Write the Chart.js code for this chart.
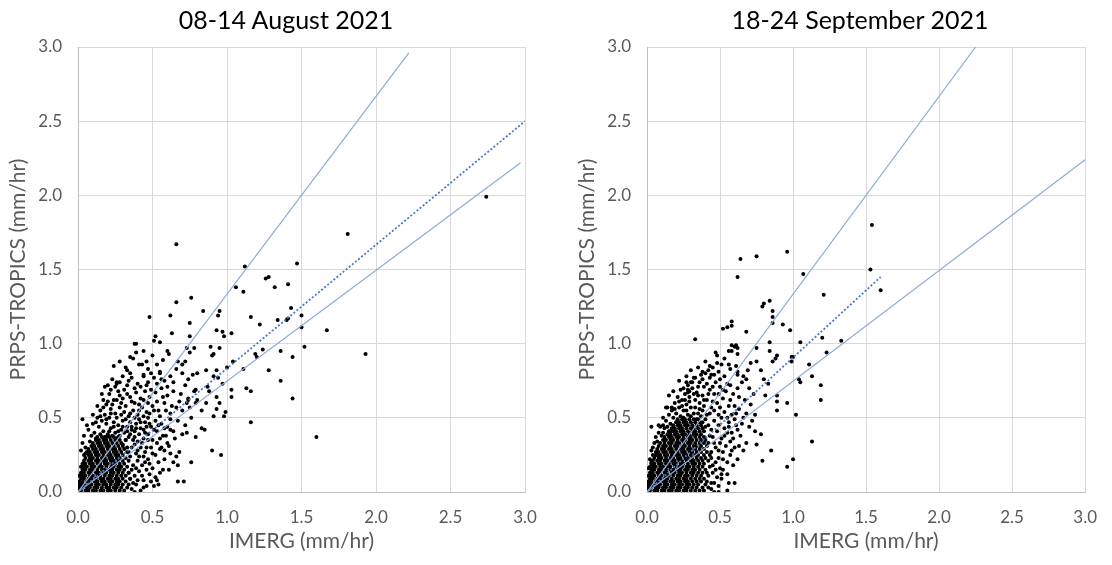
<!DOCTYPE html>
<html>
<head>
<meta charset="utf-8">
<script src="https://cdn.jsdelivr.net/npm/chart.js@4"></script>
<style>
  html, body { margin: 0; padding: 0; background: #fff; }
  .panel { position: absolute; top: 0; height: 565px; }
  #p-aug { left: 0; width: 556px; }
  #p-sep { left: 570px; width: 542px; }
  .ttl {
    position: absolute; top: 4px; width: 400px; margin-left: -200px;
    text-align: center; font: 25px/30px Lato, 'Open Sans', sans-serif; color: #000;
  }
</style>
</head>
<body>
<div class="panel" id="p-aug"><canvas id="c-aug"></canvas></div>
<div class="panel" id="p-sep"><canvas id="c-sep"></canvas></div>
<div class="ttl" id="t-aug" style="left: 286px"></div>
<div class="ttl" id="t-sep" style="left: 860px"></div>
<script>
const FONT = "Lato, 'Open Sans', sans-serif";
const GREY = '#595959';

const axisTicks = [0, 0.5, 1.0, 1.5, 2.0, 2.5, 3.0];
const titles = ['08-14 August 2021', '18-24 September 2021'];
const xTitle = 'IMERG (mm/hr)';
const yTitle = 'PRPS-TROPICS (mm/hr)';

// reference lines (start, end)
const augUpper = [[0, 0], [2.22, 2.96]];
const augFit   = [[0, 0], [3.0, 2.5]];
const augLower = [[0, 0], [2.97, 2.22]];
const sepUpper = [[0, 0], [2.25, 3.0]];
const sepFit   = [[0, 0], [1.6, 1.45]];
const sepLower = [[0, 0], [3.0, 2.24]];

// dense core near the origin: [y, [x values]]
const augCoreRows = [
  [0.01, [0.00,0.02,0.05,0.07,0.10,0.12,0.15,0.17,0.20,0.22,0.25,0.28,0.31]],
  [0.03, [0.01,0.03,0.06,0.08,0.11,0.13,0.16,0.19,0.21,0.24,0.26,0.29,0.33]],
  [0.05, [0.00,0.02,0.04,0.07,0.09,0.12,0.14,0.17,0.19,0.22,0.25,0.27,0.30,0.34]],
  [0.07, [0.01,0.03,0.06,0.08,0.11,0.13,0.16,0.18,0.21,0.23,0.26,0.28,0.32]],
  [0.09, [0.02,0.04,0.07,0.09,0.12,0.15,0.17,0.20,0.22,0.25,0.27,0.30,0.35]],
  [0.11, [0.01,0.03,0.05,0.08,0.10,0.13,0.15,0.18,0.21,0.23,0.26,0.29,0.32]],
  [0.13, [0.02,0.04,0.07,0.09,0.12,0.14,0.17,0.19,0.22,0.24,0.27,0.30,0.34]],
  [0.15, [0.03,0.05,0.08,0.10,0.13,0.16,0.18,0.21,0.23,0.26,0.28,0.31]],
  [0.17, [0.02,0.04,0.06,0.09,0.11,0.14,0.16,0.19,0.22,0.24,0.27,0.29,0.33]],
  [0.19, [0.03,0.05,0.08,0.10,0.13,0.15,0.18,0.20,0.23,0.25,0.28,0.31]],
  [0.21, [0.04,0.07,0.09,0.12,0.14,0.17,0.19,0.22,0.24,0.27,0.30,0.34]],
  [0.23, [0.05,0.08,0.10,0.13,0.16,0.18,0.21,0.23,0.26,0.28,0.32]],
  [0.25, [0.04,0.07,0.09,0.12,0.14,0.17,0.20,0.22,0.25,0.27,0.30]],
  [0.27, [0.06,0.08,0.11,0.13,0.16,0.18,0.21,0.24,0.26,0.29,0.33]],
  [0.29, [0.07,0.10,0.12,0.15,0.17,0.20,0.23,0.25,0.28,0.31]],
  [0.31, [0.09,0.11,0.14,0.16,0.19,0.21,0.24,0.27,0.30]],
  [0.33, [0.10,0.13,0.15,0.18,0.20,0.23,0.26,0.29]],
  [0.35, [0.12,0.14,0.17,0.19,0.22,0.25,0.28,0.32]],
  [0.37, [0.13,0.16,0.19,0.21,0.24,0.27]],
];

const augScatter = [
  [0.36,0.02],[0.39,0.05],[0.42,0.01],[0.44,0.08],[0.38,0.11],[0.41,0.14],[0.46,0.04],[0.48,0.12],
  [0.37,0.18],[0.40,0.21],[0.43,0.18],[0.47,0.22],[0.50,0.16],[0.52,0.25],[0.45,0.27],[0.39,0.26],
  [0.42,0.30],[0.49,0.30],[0.55,0.29],[0.58,0.22],[0.53,0.08],[0.57,0.15],[0.61,0.31],[0.35,0.24],
  [0.36,0.30],[0.51,0.04],[0.67,0.07],
  [0.08,0.34],[0.05,0.30],[0.04,0.38],[0.07,0.42],[0.11,0.40],[0.10,0.46],[0.14,0.44],[0.17,0.41],
  [0.13,0.50],[0.16,0.48],[0.19,0.46],[0.22,0.43],[0.25,0.40],[0.28,0.38],[0.31,0.40],[0.34,0.37],
  [0.37,0.35],[0.40,0.34],[0.44,0.36],[0.47,0.39],[0.50,0.35],[0.53,0.41],[0.57,0.38],[0.60,0.44],
  [0.15,0.55],[0.18,0.52],[0.21,0.50],[0.24,0.47],[0.27,0.45],[0.30,0.48],[0.33,0.44],[0.36,0.42],
  [0.39,0.46],[0.42,0.43],[0.45,0.47],[0.49,0.44],[0.52,0.48],[0.56,0.46],[0.64,0.41],[0.67,0.48],
  [0.72,0.45],[0.76,0.50],
  [0.19,0.59],[0.22,0.56],[0.25,0.53],[0.28,0.57],[0.31,0.54],[0.34,0.51],[0.37,0.55],[0.40,0.52],
  [0.43,0.57],[0.46,0.54],[0.50,0.58],[0.54,0.55],[0.58,0.60],[0.62,0.53],[0.66,0.57],[0.70,0.55],
  [0.74,0.62],
  [0.17,0.62],[0.21,0.66],[0.24,0.62],[0.27,0.68],[0.30,0.63],[0.33,0.66],[0.36,0.61],[0.39,0.67],
  [0.42,0.63],[0.45,0.68],[0.48,0.64],[0.52,0.67],[0.56,0.70],[0.60,0.65],[0.64,0.68],[0.69,0.66],
  [0.78,0.68],
  [0.20,0.72],[0.23,0.76],[0.26,0.74],[0.30,0.78],[0.33,0.72],[0.36,0.77],[0.40,0.73],[0.44,0.79],
  [0.47,0.74],[0.51,0.77],[0.55,0.81],[0.58,0.75],[0.62,0.78],[0.66,0.83],
  [0.24,0.85],[0.28,0.88],[0.32,0.84],[0.37,0.90],[0.41,0.86],[0.46,0.88],[0.50,0.92],[0.53,0.86],
  [0.57,0.89],[0.61,0.93],
  [0.32,0.35],[0.35,0.39],[0.38,0.41],[0.41,0.39],[0.44,0.42],[0.30,0.32],[0.33,0.30],[0.26,0.36],
  [0.23,0.38],[0.20,0.39],[0.29,0.42],[0.35,0.47],[0.41,0.49],[0.47,0.50],[0.38,0.37],[0.46,0.44],
  [0.13,0.58],[0.10,0.52],[0.16,0.66],[0.18,0.71],
  [0.72,0.72],[0.68,0.61],[0.63,0.58],[0.75,0.57],[0.80,0.62],[0.83,0.55],[0.86,0.60],[0.55,0.36],
  [0.60,0.33],[0.65,0.36],[0.70,0.39],[0.58,0.28],[0.62,0.26],[0.48,0.19],[0.52,0.10],[0.54,0.20],
  [0.44,0.24],
  [0.05,0.26],[0.03,0.33],[0.02,0.28],[0.06,0.45],[0.09,0.38],[0.12,0.36],[0.15,0.39],[0.18,0.37],
  [0.21,0.41],[0.24,0.44],[0.27,0.41],[0.30,0.44],[0.33,0.41],[0.36,0.44],[0.39,0.43],[0.42,0.47],
  [0.45,0.40],[0.48,0.46],[0.51,0.42],[0.54,0.45],[0.58,0.43],
  [0.12,0.47],[0.15,0.51],[0.19,0.49],[0.22,0.53],[0.26,0.50],[0.29,0.52],[0.32,0.49],[0.35,0.53],
  [0.38,0.50],[0.41,0.55],[0.44,0.51],[0.48,0.53],[0.51,0.55],[0.55,0.51],[0.59,0.55],
  [0.17,0.57],[0.20,0.61],[0.23,0.59],[0.26,0.62],[0.29,0.60],[0.32,0.58],[0.35,0.64],[0.38,0.60],
  [0.41,0.59],[0.44,0.62],[0.47,0.60],[0.53,0.61],[0.57,0.64],
  [0.22,0.69],[0.25,0.71],[0.28,0.65],[0.31,0.69],[0.34,0.75],[0.38,0.70],[0.42,0.71],[0.46,0.72],
  [0.49,0.69],[0.53,0.73],
  [0.34,0.27],[0.38,0.32],[0.40,0.28],[0.43,0.33],[0.46,0.30],[0.47,0.35],[0.50,0.26],[0.53,0.33],
  [0.56,0.30],[0.41,0.24],[0.45,0.20],[0.39,0.16],[0.43,0.11],[0.46,0.15],[0.40,0.08],[0.37,0.06],
  [0.34,0.13],[0.36,0.15],[0.49,0.07],[0.44,0.03],[0.38,0.00],[0.35,0.09],
  // sparse outliers
  [2.74,1.99],[1.81,1.74],[0.66,1.67],[1.12,1.52],[1.47,1.54],[1.26,1.44],[1.28,1.45],[1.06,1.38],
  [1.11,1.35],[1.32,1.38],[1.41,1.40],[0.76,1.31],[0.66,1.28],[0.48,1.18],[0.62,1.19],[0.84,1.22],
  [0.94,1.19],[0.95,1.22],[0.75,1.14],[1.16,1.18],[1.22,1.13],[1.34,1.16],[1.40,1.16],[1.41,1.17],
  [1.43,1.24],[1.50,1.19],[1.50,1.11],[1.67,1.09],[0.93,1.09],[0.97,1.08],[0.98,1.05],[1.03,1.07],
  [0.63,1.07],[0.75,1.05],[0.52,1.05],[0.51,1.02],[0.55,1.01],[0.38,1.00],[0.89,0.98],[0.95,0.97],
  [0.78,0.97],[0.73,0.97],[1.52,0.98],[1.24,0.96],[1.44,0.91],[1.93,0.93],[1.44,0.63],[1.60,0.37],
  [0.60,0.95],[0.75,0.94],[0.90,0.92],[0.91,0.93],[1.19,0.93],[1.20,0.91],[1.36,0.95],[1.28,0.82],
  [1.36,0.75],[1.04,0.88],[1.00,0.84],[1.11,0.83],[0.86,0.82],[0.93,0.82],[0.94,0.77],[0.91,0.78],
  [0.97,0.73],[0.87,0.71],[0.88,0.68],[1.03,0.69],[1.03,0.64],[1.13,0.70],[1.16,0.68],[0.93,0.64],
  [0.95,0.60],[0.93,0.56],[0.99,0.54],[0.98,0.51],[0.91,0.51],[1.16,0.47],[0.90,0.28],[0.96,0.25],
  [0.80,0.80],[0.77,0.79],[0.74,0.76],[0.70,0.80],[0.67,0.88],[0.72,0.88],[0.70,0.86],[0.79,0.69],
  [0.74,0.63],[0.73,0.60],[0.79,0.60],[0.83,0.43],[0.85,0.42],[0.79,0.37],[0.73,0.40],[0.76,0.20],
  [0.71,0.07],[0.67,0.18],[0.64,0.20],[0.55,0.13],[0.54,0.05],[0.61,0.15],[0.66,0.24],[0.68,0.27],
  [0.62,0.49],[0.59,0.38],[0.62,0.42],[0.55,0.80],[0.56,0.76],[0.60,0.71],[0.64,0.74],[0.44,0.95],
  [0.39,1.00],[0.35,0.91],[0.39,0.94],[0.43,0.86],[0.47,0.83],[0.49,0.80],[0.44,0.78],[0.33,0.82],
  [0.35,0.80],[0.28,0.74],[0.26,0.73],[0.03,0.49],
];

const sepCoreRows = [
  [0.01, [0.00,0.02,0.05,0.07,0.10,0.12,0.15,0.17,0.20,0.22,0.25,0.27,0.30,0.33,0.36,0.39]],
  [0.03, [0.01,0.03,0.06,0.08,0.11,0.13,0.16,0.18,0.21,0.23,0.26,0.28,0.31,0.34,0.38,0.42]],
  [0.05, [0.00,0.02,0.04,0.07,0.09,0.12,0.14,0.17,0.19,0.22,0.24,0.27,0.29,0.32,0.35,0.40]],
  [0.07, [0.01,0.03,0.06,0.08,0.11,0.13,0.16,0.18,0.21,0.23,0.26,0.28,0.31,0.34,0.37,0.41]],
  [0.09, [0.02,0.04,0.07,0.09,0.12,0.14,0.17,0.20,0.22,0.25,0.27,0.30,0.33,0.36,0.39]],
  [0.11, [0.01,0.03,0.05,0.08,0.10,0.13,0.15,0.18,0.21,0.23,0.26,0.28,0.31,0.34,0.37,0.42]],
  [0.13, [0.02,0.04,0.07,0.09,0.12,0.14,0.17,0.19,0.22,0.24,0.27,0.30,0.32,0.35,0.38,0.41]],
  [0.15, [0.03,0.05,0.08,0.10,0.13,0.16,0.18,0.21,0.23,0.26,0.28,0.31,0.33,0.36,0.40]],
  [0.17, [0.02,0.04,0.06,0.09,0.11,0.14,0.16,0.19,0.22,0.24,0.27,0.29,0.32,0.35,0.38,0.43]],
  [0.19, [0.03,0.05,0.08,0.10,0.13,0.15,0.18,0.20,0.23,0.25,0.28,0.31,0.33,0.36,0.39]],
  [0.21, [0.04,0.07,0.09,0.12,0.14,0.17,0.19,0.22,0.24,0.27,0.30,0.32,0.35,0.38,0.42]],
  [0.23, [0.05,0.08,0.10,0.13,0.16,0.18,0.21,0.23,0.26,0.28,0.31,0.34,0.37,0.40]],
  [0.25, [0.04,0.07,0.09,0.12,0.14,0.17,0.20,0.22,0.25,0.27,0.30,0.33,0.35,0.39,0.43]],
  [0.27, [0.06,0.08,0.11,0.13,0.16,0.18,0.21,0.24,0.26,0.29,0.31,0.34,0.37,0.41]],
  [0.29, [0.07,0.10,0.12,0.15,0.17,0.20,0.23,0.25,0.28,0.30,0.33,0.36,0.39]],
  [0.31, [0.08,0.11,0.13,0.16,0.19,0.21,0.24,0.26,0.29,0.32,0.34,0.37,0.41]],
  [0.33, [0.09,0.12,0.15,0.17,0.20,0.22,0.25,0.28,0.30,0.33,0.36,0.39]],
  [0.35, [0.11,0.13,0.16,0.18,0.21,0.24,0.26,0.29,0.31,0.34,0.37,0.40]],
  [0.37, [0.12,0.15,0.17,0.20,0.22,0.25,0.28,0.30,0.33,0.36,0.39]],
  [0.39, [0.14,0.16,0.19,0.21,0.24,0.26,0.29,0.32,0.34,0.37]],
  [0.41, [0.15,0.18,0.20,0.23,0.25,0.28,0.31,0.33,0.36,0.39]],
  [0.43, [0.17,0.19,0.22,0.24,0.27,0.30,0.32,0.35,0.38]],
  [0.45, [0.18,0.21,0.23,0.26,0.28,0.31,0.34,0.37]],
  [0.47, [0.20,0.22,0.25,0.27,0.30,0.33,0.36]],
  [0.49, [0.21,0.24,0.26,0.29,0.32,0.35]],
];

const sepScatter = [
  [0.44,0.02],[0.46,0.06],[0.48,0.10],[0.45,0.13],[0.50,0.16],[0.47,0.20],[0.52,0.22],[0.44,0.27],
  [0.49,0.28],[0.54,0.31],[0.46,0.33],[0.51,0.36],[0.57,0.34],[0.43,0.38],[0.48,0.41],[0.53,0.43],
  [0.58,0.40],[0.42,0.45],[0.46,0.48],[0.51,0.50],[0.56,0.47],[0.61,0.45],[0.64,0.38],[0.60,0.30],
  [0.57,0.25],[0.62,0.22],[0.55,0.12],[0.59,0.18],[0.66,0.28],[0.68,0.33],[0.70,0.44],[0.66,0.50],
  [0.02,0.22],[0.03,0.28],[0.05,0.33],[0.06,0.37],[0.08,0.40],[0.10,0.38],[0.09,0.44],[0.12,0.43],
  [0.13,0.48],[0.16,0.46],[0.15,0.52],[0.18,0.50],[0.11,0.50],[0.14,0.57],[0.17,0.55],[0.20,0.53],
  [0.19,0.60],[0.22,0.57],[0.25,0.55],[0.21,0.64],[0.24,0.62],[0.27,0.59],[0.30,0.57],[0.23,0.69],
  [0.26,0.66],[0.29,0.64],[0.33,0.62],[0.36,0.60],[0.28,0.72],[0.31,0.70],[0.34,0.67],[0.38,0.65],
  [0.41,0.62],[0.33,0.77],[0.36,0.74],[0.39,0.71],[0.43,0.69],[0.46,0.66],[0.40,0.80],[0.43,0.77],
  [0.47,0.74],[0.50,0.71],[0.45,0.84],[0.49,0.81],[0.53,0.78],[0.55,0.73],[0.38,0.55],[0.41,0.52],
  [0.44,0.57],[0.48,0.60],[0.52,0.63],[0.56,0.58],[0.59,0.66],[0.62,0.70],[0.58,0.52],[0.63,0.56],
  [0.67,0.62],[0.54,0.68],[0.25,0.50],[0.30,0.51],[0.35,0.53],[0.40,0.49],[0.27,0.78],[0.22,0.75],
  [0.18,0.68],[0.35,0.84],[0.40,0.88],[0.51,0.86],[0.57,0.83],[0.62,0.79],[0.65,0.74],[0.71,0.59],
  [0.74,0.52],[0.73,0.66],[0.69,0.82],[0.48,0.92],[0.53,0.90],
  [0.44,0.06],[0.47,0.15],[0.45,0.18],[0.49,0.23],[0.44,0.23],[0.47,0.30],[0.42,0.33],[0.45,0.37],
  [0.50,0.33],[0.53,0.38],[0.49,0.45],[0.44,0.42],[0.40,0.44],[0.38,0.47],[0.37,0.51],[0.34,0.49],
  [0.32,0.53],[0.28,0.52],[0.23,0.51],[0.20,0.47],[0.16,0.41],[0.14,0.44],[0.11,0.40],[0.07,0.34],
  [0.04,0.30],[0.06,0.25],[0.01,0.16],[0.03,0.20],
  [0.19,0.56],[0.24,0.58],[0.27,0.55],[0.33,0.57],[0.36,0.56],[0.39,0.58],[0.43,0.53],[0.46,0.55],
  [0.49,0.52],[0.53,0.54],[0.55,0.50],[0.60,0.49],[0.50,0.57],[0.45,0.61],[0.42,0.66],[0.39,0.62],
  [0.35,0.65],[0.32,0.66],[0.29,0.61],[0.26,0.62],[0.22,0.61],[0.28,0.67],[0.31,0.74],[0.35,0.71],
  [0.38,0.76],[0.41,0.73],[0.45,0.71],[0.49,0.66],[0.52,0.69],[0.57,0.62],[0.60,0.58],[0.63,0.64],
  [0.57,0.72],[0.50,0.76],[0.46,0.79],[0.42,0.82],[0.37,0.79],[0.30,0.82],[0.25,0.70],
  [0.55,0.40],[0.59,0.36],[0.62,0.42],[0.56,0.44],[0.52,0.27],[0.55,0.20],[0.52,0.15],[0.49,0.04],
  [0.51,0.12],[0.58,0.28],[0.63,0.31],[0.65,0.46],[0.68,0.53],[0.72,0.48],[0.61,0.53],
  // sparse outliers
  [1.54,1.80],[1.53,1.50],[1.60,1.36],[0.96,1.62],[0.75,1.59],[0.64,1.57],[0.62,1.45],[1.07,1.47],
  [1.21,1.33],[0.84,1.29],[0.80,1.27],[0.79,1.25],[0.86,1.22],[0.86,1.18],[0.86,1.14],[0.93,1.13],
  [0.98,1.09],[0.58,1.15],[0.58,1.12],[0.55,1.11],[0.52,1.10],[0.68,1.08],[0.33,1.03],[0.84,1.01],
  [1.05,1.01],[1.20,1.04],[1.33,1.02],[0.58,0.99],[0.60,0.98],[0.62,0.97],[0.56,0.95],[0.62,0.93],
  [0.47,0.94],[0.75,0.97],[0.84,0.95],[0.89,0.92],[0.88,0.90],[0.99,0.91],[1.23,0.94],[1.11,0.86],
  [1.13,0.78],[1.19,0.72],[1.19,0.62],[1.04,0.76],[1.05,0.74],[1.00,0.91],[0.99,0.88],[0.96,0.60],
  [1.02,0.52],[1.13,0.34],[1.00,0.22],[0.96,0.17],[0.85,0.28],[0.79,0.21],[0.89,0.65],[0.89,0.61],
  [0.89,0.55],[0.86,0.88],[0.74,0.41],[0.75,0.32],[0.78,0.39],[0.78,0.82],[0.80,0.76],[0.83,0.73],
  [0.81,0.65],[0.71,0.87],[0.75,0.88],[0.66,0.78],[0.68,0.76],[0.70,0.70],[0.61,0.99],[0.58,0.95],
  [0.56,0.86],[0.61,0.85],[0.62,0.81],[0.48,0.87],[0.43,0.85],[0.38,0.81],[0.44,0.79],[0.27,0.74],
  [0.30,0.74],[0.32,0.77],[0.28,0.69],[0.29,0.68],[0.15,0.65],[0.13,0.57],[0.17,0.57],[0.03,0.44],
  [0.08,0.45],[0.11,0.45],[0.60,0.06],[0.55,0.01],[0.49,0.00],[0.56,0.06],[0.51,0.09],[0.46,0.00],
];

function toPoints(rows, scatter) {
  const pts = [];
  rows.forEach(([y, xs]) => xs.forEach(x => pts.push({ x, y })));
  scatter.forEach(([x, y]) => pts.push({ x, y }));
  return pts;
}

function lineSet(seg, dotted) {
  return {
    data: seg.map(([x, y]) => ({ x, y })),
    showLine: true,
    borderColor: dotted ? '#4a78c8' : '#8eaadc',
    borderWidth: dotted ? 1.8 : 1.2,
    borderDash: dotted ? [2, 2] : [],
    pointRadius: 0,
    fill: false,
  };
}

function axis(title, isX, plotEdge, titlePad) {
  return {
    type: 'linear',
    min: 0,
    max: 3,
    afterBuildTicks: s => { s.ticks = axisTicks.map(v => ({ value: v })); },
    afterFit: s => { if (isX) s.height = plotEdge; else s.width = plotEdge; },
    ticks: {
      color: GREY,
      font: { family: FONT, size: 17 },
      padding: isX ? 15 : 16,
      callback: v => v.toFixed(1),
    },
    grid: { color: '#d9d9d9', lineWidth: 1, drawTicks: false },
    border: { color: '#bfbfbf', width: 1 },
    title: {
      display: true,
      text: title,
      color: GREY,
      font: { family: FONT, size: 21 },
      padding: isX ? { top: 0, bottom: titlePad } : { top: titlePad, bottom: 0 },
    },
  };
}

function makeChart(id, rows, scatter, upper, fit, lower, rightPad, yWidth, yTitlePad) {
  new Chart(document.getElementById(id), {
    type: 'scatter',
    data: {
      datasets: [
        lineSet(upper, false),
        lineSet(fit, true),
        lineSet(lower, false),
        {
          data: toPoints(rows, scatter),
          pointRadius: 2,
          pointBackgroundColor: '#000',
          pointBorderWidth: 0,
        },
      ],
    },
    options: {
      responsive: true,
      maintainAspectRatio: false,
      animation: false,
      layout: { padding: { left: 0, right: rightPad, top: 47, bottom: 0 } },
      plugins: {
        legend: { display: false },
        tooltip: { enabled: false },
      },
      scales: {
        x: axis(xTitle, true, 73, 11),
        y: axis(yTitle, false, yWidth, yTitlePad),
      },
    },
  });
}

document.getElementById('t-aug').textContent = titles[0];
document.getElementById('t-sep').textContent = titles[1];
makeChart('c-aug', augCoreRows, augScatter, augUpper, augFit, augLower, 31, 78, 6);
makeChart('c-sep', sepCoreRows, sepScatter, sepUpper, sepFit, sepLower, 19, 77, 5);
</script>
</body>
</html>
